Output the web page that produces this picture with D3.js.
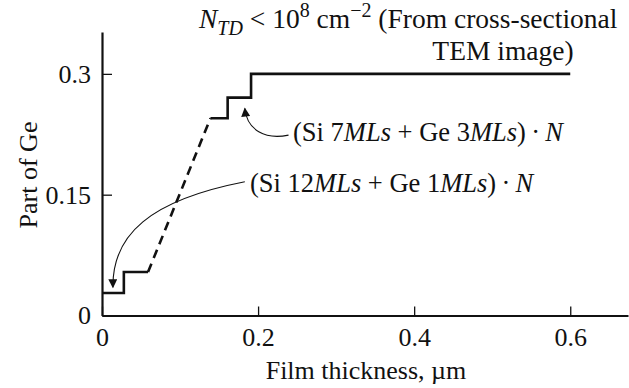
<!DOCTYPE html>
<html>
<head>
<meta charset="utf-8">
<script src="https://cdn.jsdelivr.net/npm/d3@7"></script>
<style>
  body { margin: 0; background: #fff; }
  svg { display: block; }
  svg text { font-family: 'Liberation Serif', 'Times New Roman', Times, 'DejaVu Serif', serif; fill: #111; }
</style>
</head>
<body>
<svg id="chart" width="629" height="388"></svg>
<script>
// data (film thickness in um, part of Ge)
const stepLowX = [0, 0.028, 0.028, 0.059];
const stepLowY = [0.028, 0.028, 0.054, 0.054];
const rampX = [0.059, 0.139];
const rampY = [0.054, 0.245];
const stepHighX = [0.139, 0.161, 0.161, 0.191, 0.191, 0.6];
const stepHighY = [0.245, 0.245, 0.2705, 0.2705, 0.3, 0.3];

const xTicks = [0, 0.2, 0.4, 0.6];
const xTickLabels = ['0', '0.2', '0.4', '0.6'];
const yTicks = [0, 0.15, 0.3];
const yTickLabels = ['0', '0.15', '0.3'];

const serif = "'Liberation Serif', 'Times New Roman', Times, 'DejaVu Serif', serif";

const svg = d3.select('#chart')
  .attr('font-family', serif);

// scales
const x = d3.scaleLinear().domain([0, 0.674]).range([102, 628]);
const y = d3.scaleLinear().domain([0, 0.352]).range([315.5, 32]);

// axes, ticks pointing inward
const xAxis = d3.axisBottom(x)
  .tickValues(xTicks)
  .tickFormat((d, i) => xTickLabels[i])
  .tickSizeInner(-9)
  .tickSizeOuter(0)
  .tickPadding(12);

const yAxis = d3.axisLeft(y)
  .tickValues(yTicks)
  .tickFormat((d, i) => yTickLabels[i])
  .tickSizeInner(-10)
  .tickSizeOuter(0)
  .tickPadding(11);

const gx = svg.append('g')
  .attr('transform', `translate(0,${y(0)})`)
  .call(xAxis);
const gy = svg.append('g')
  .attr('transform', `translate(${x(0)},0)`)
  .call(yAxis);

[gx, gy].forEach(g => {
  g.attr('font-family', serif).attr('font-size', 26);
  g.select('.domain').attr('stroke', '#111').attr('stroke-width', 2.2);
  g.selectAll('.tick line').attr('stroke', '#111').attr('stroke-width', 1.3);
  g.selectAll('.tick text').attr('fill', '#111');
});

// axis titles
svg.append('text')
  .attr('x', 366)
  .attr('y', 379)
  .attr('text-anchor', 'middle')
  .attr('font-size', 26)
  .text('Film thickness, \u00b5m');

svg.append('text')
  .attr('transform', 'translate(37,175) rotate(-90)')
  .attr('text-anchor', 'middle')
  .attr('font-size', 26)
  .text('Part of Ge');

// profile lines
const line = d3.line().x(d => x(d[0])).y(d => y(d[1]));

svg.append('path')
  .datum(d3.zip(stepLowX, stepLowY))
  .attr('d', line)
  .attr('fill', 'none')
  .attr('stroke', '#111')
  .attr('stroke-width', 2.6);

svg.append('path')
  .datum(d3.zip(rampX, rampY))
  .attr('d', line)
  .attr('fill', 'none')
  .attr('stroke', '#111')
  .attr('stroke-width', 2.6)
  .attr('stroke-dasharray', '9,6');

svg.append('path')
  .datum(d3.zip(stepHighX, stepHighY))
  .attr('d', line)
  .attr('fill', 'none')
  .attr('stroke', '#111')
  .attr('stroke-width', 2.6);

// arrow marker
svg.append('defs').append('marker')
  .attr('id', 'head')
  .attr('viewBox', '0 0 10 10')
  .attr('refX', 9)
  .attr('refY', 5)
  .attr('markerUnits', 'userSpaceOnUse')
  .attr('markerWidth', 13)
  .attr('markerHeight', 9)
  .attr('orient', 'auto')
  .append('path')
  .attr('d', 'M0,0 L10,5 L0,10 Z')
  .attr('fill', '#111');

// annotation arrows (points in data units)
const arrow1 = [[0.239, 0.224], [0.209, 0.218], [0.186, 0.230], [0.183, 0.257]];
const arrow2 = [[0.183, 0.166], [0.061, 0.143], [0.013, 0.100], [0.014, 0.035]];

function curve(p) {
  const q = p.map(d => [x(d[0]), y(d[1])]);
  return `M${q[0]}C${q[1]} ${q[2]} ${q[3]}`;
}

[arrow1, arrow2].forEach(a => {
  svg.append('path')
    .attr('d', curve(a))
    .attr('fill', 'none')
    .attr('stroke', '#111')
    .attr('stroke-width', 1.1)
    .attr('marker-end', 'url(#head)');
});

// labels with italics
function rich(xp, yp, size, parts) {
  const t = svg.append('text')
    .attr('x', xp)
    .attr('y', yp)
    .attr('font-size', size);
  parts.forEach(p => {
    const s = t.append('tspan').text(p.t);
    if (p.i) s.attr('font-style', 'italic');
    if (p.dy) s.attr('dy', p.dy);
    if (p.fs) s.attr('font-size', p.fs);
  });
  return t;
}

rich(293, 141, 26.5, [
  { t: '(Si 7' }, { t: 'MLs', i: true }, { t: ' + Ge 3' }, { t: 'MLs', i: true },
  { t: ')\u2009\u00b7\u2009' }, { t: 'N', i: true }
]);

rich(250, 192, 26.5, [
  { t: '(Si 12' }, { t: 'MLs', i: true }, { t: ' + Ge 1' }, { t: 'MLs', i: true },
  { t: ')\u2009\u00b7\u2009' }, { t: 'N', i: true }
]);

rich(199, 28, 27.5, [
  { t: 'N', i: true },
  { t: 'TD', i: true, dy: 7, fs: 20 },
  { t: ' < 10', dy: -7 },
  { t: '8', dy: -11, fs: 20 },
  { t: ' cm', dy: 11 },
  { t: '\u22122', dy: -11, fs: 20 },
  { t: ' (From cross-sectional', dy: 11 }
]);

svg.append('text')
  .attr('x', 503)
  .attr('y', 60)
  .attr('text-anchor', 'middle')
  .attr('font-size', 27.5)
  .text('TEM image)');
</script>
</body>
</html>
